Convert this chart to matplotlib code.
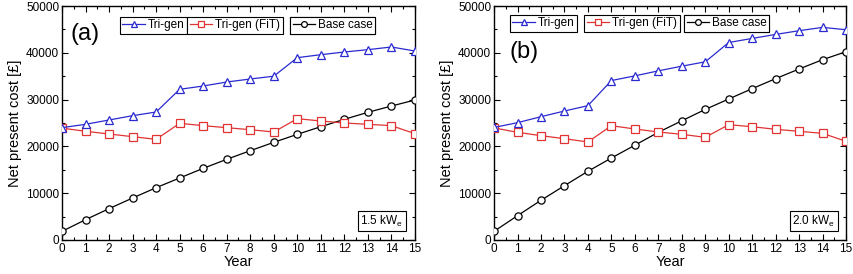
import matplotlib
matplotlib.use("Agg")
import matplotlib.pyplot as plt
from matplotlib.ticker import MultipleLocator

plt.rcParams['font.family'] = ['Liberation Sans', 'DejaVu Sans']

years = list(range(16))

a_trigen = [24000, 24720, 25640, 26560, 27350, 32200, 32900, 33760, 34400, 35000,
            38960, 39600, 40170, 40670, 41240, 40380]
a_fit = [23900, 23230, 22650, 22080, 21510, 24930, 24430, 24000, 23570, 23080,
         25920, 25430, 25000, 24720, 24430, 22720]
a_base = [1850, 4340, 6700, 8970, 11180, 13250, 15310, 17240, 19080, 20870,
          22580, 24210, 25790, 27280, 28630, 29910]

b_trigen = [24050, 25070, 26350, 27560, 28700, 34070, 35070, 36140, 37140, 38070,
            42200, 43070, 43930, 44720, 45430, 44930]
b_fit = [23950, 23010, 22290, 21650, 20940, 24420, 23720, 23080, 22580, 21940,
         24640, 24210, 23650, 23220, 22790, 21080]
b_base = [1850, 5200, 8480, 11610, 14680, 17520, 20250, 23010, 25470, 27900,
          30130, 32340, 34480, 36540, 38530, 40240]

series_names = ["Tri-gen", "Tri-gen (FiT)", "Base case"]
panel_labels = ["(a)", "(b)"]
size_labels = ["1.5 kW$_\\mathregular{e}$", "2.0 kW$_\\mathregular{e}$"]

colors = ["#2a2ad0", "#e03434", "black"]
markers = ["^", "s", "o"]

fig = plt.figure(figsize=(8.54, 2.74), dpi=100)
axes = [fig.add_axes([0.0726, 0.1241, 0.4133, 0.854]),
        fig.add_axes([0.5785, 0.1241, 0.4122, 0.854])]

data = [[a_trigen, a_fit, a_base], [b_trigen, b_fit, b_base]]
leg_x = [[0.164, 0.355, 0.646], [0.045, 0.256, 0.540]]
leg_y = [0.918, 0.926]
lab_pos = [(0.065, 0.88), (0.085, 0.803)]
box_x = [0.906, 0.908]

for i, ax in enumerate(axes):
    lines = []
    for j in range(3):
        ln, = ax.plot(years, data[i][j], color=colors[j], marker=markers[j],
                      markerfacecolor='white', markeredgecolor=colors[j],
                      markersize=5.2, markeredgewidth=0.9, linewidth=0.9,
                      label=series_names[j], zorder=3 - j * 0.1)
        lines.append(ln)
    ax.set_xlim(0, 15)
    ax.set_ylim(0, 50000)
    ax.xaxis.set_major_locator(MultipleLocator(1))
    ax.xaxis.set_minor_locator(MultipleLocator(0.5))
    ax.yaxis.set_major_locator(MultipleLocator(10000))
    ax.yaxis.set_minor_locator(MultipleLocator(5000))
    ax.tick_params(which='both', direction='in', top=True, right=True,
                   labelsize=8.5, pad=2)
    ax.tick_params(which='major', length=4, width=0.8)
    ax.tick_params(which='minor', length=2, width=0.8)
    for sp in ax.spines.values():
        sp.set_linewidth(1.0)
    ax.set_xlabel("Year", fontsize=10.5, labelpad=0.5)
    ax.set_ylabel("Net present cost [£]", fontsize=10.5, labelpad=3)

    for j in range(3):
        leg = ax.legend(handles=[lines[j]], loc='center left',
                        bbox_to_anchor=(leg_x[i][j], leg_y[i]),
                        fancybox=False, edgecolor='black', framealpha=1,
                        fontsize=8.5, handlelength=1.9, handletextpad=0.25,
                        borderpad=0.22, borderaxespad=0, markerscale=0.8)
        leg.get_frame().set_linewidth(0.8)
        ax.add_artist(leg)

    ax.text(lab_pos[i][0], lab_pos[i][1], panel_labels[i], transform=ax.transAxes,
            fontsize=17, ha='center', va='center')
    ax.text(box_x[i], 0.081, size_labels[i], transform=ax.transAxes,
            fontsize=8.5, ha='center', va='center',
            bbox=dict(boxstyle='square,pad=0.2', facecolor='white',
                      edgecolor='black', linewidth=0.8))

fig.savefig("out.png", dpi=100)
